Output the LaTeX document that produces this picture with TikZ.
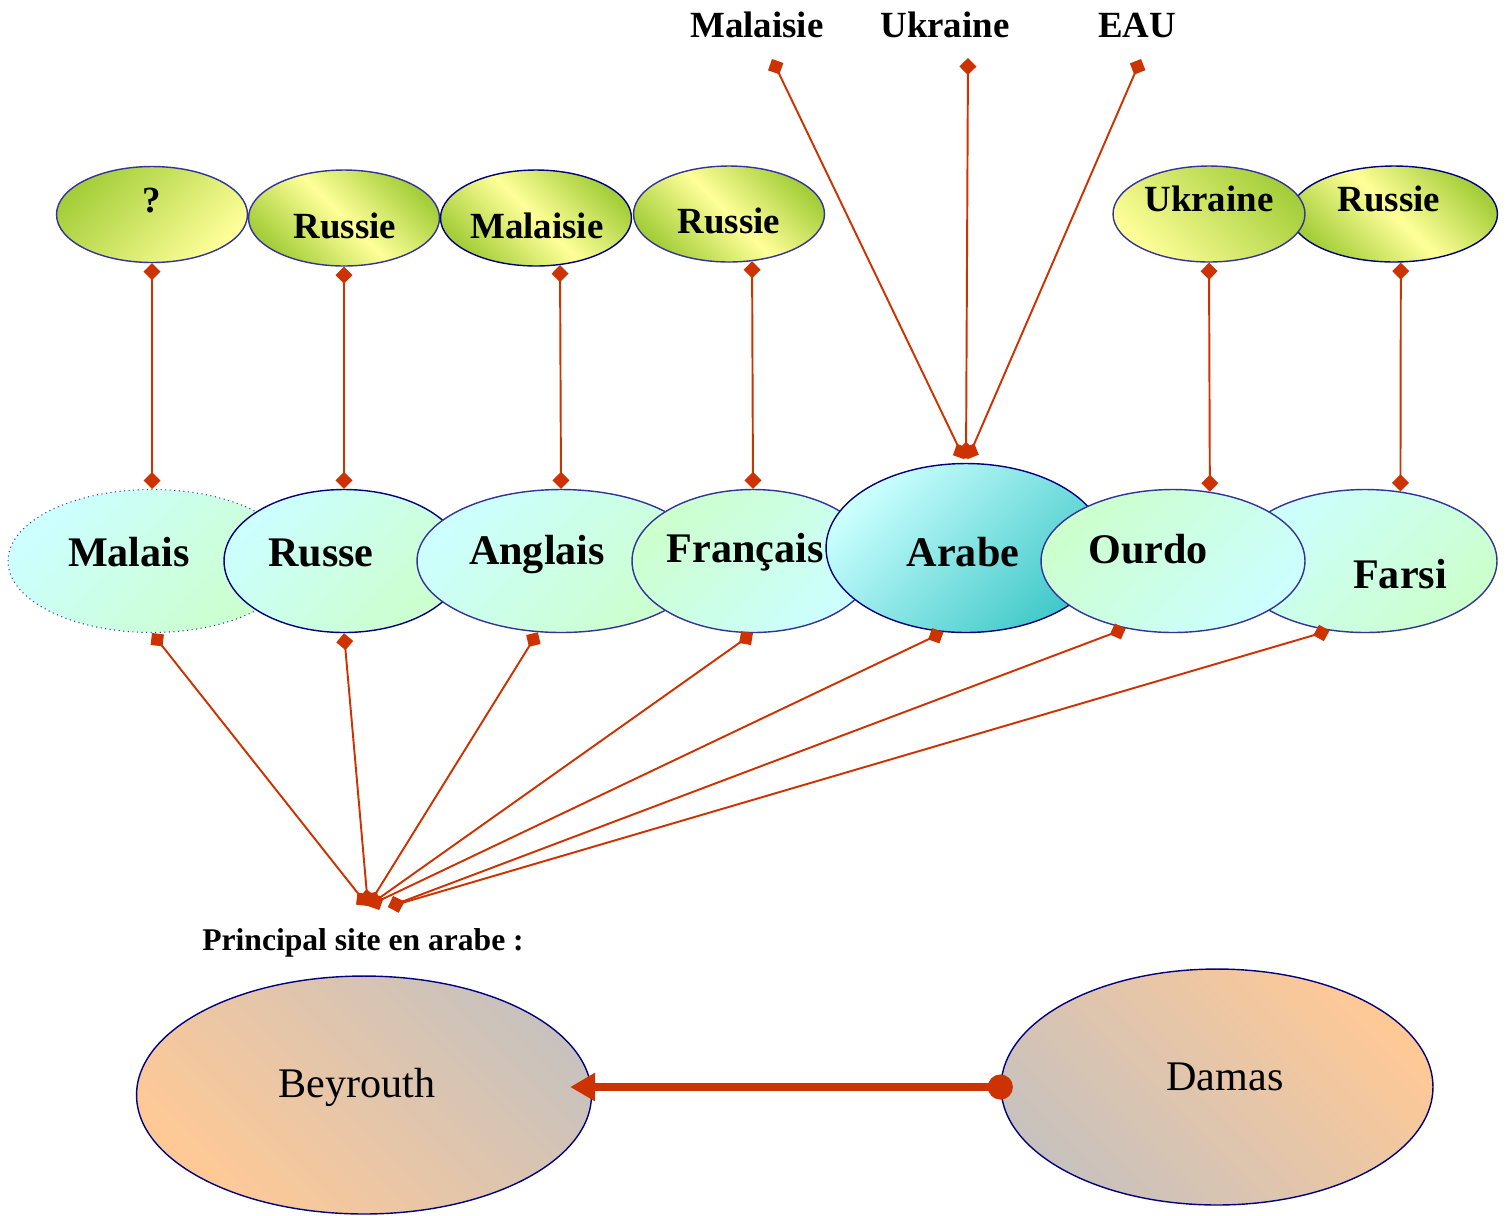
\documentclass[tikz,border=0pt]{standalone}
\usepackage{fontspec}
\setmainfont{Liberation Serif}
\usetikzlibrary{shapes.geometric,arrows.meta}
\definecolor{leafgreen}{HTML}{A4CE39}
\definecolor{paleyellow}{HTML}{FFFF99}
\definecolor{palecyan}{HTML}{CCFFFF}
\definecolor{palemint}{HTML}{CCFFCC}
\definecolor{deepcyan}{HTML}{40C8C8}
\definecolor{rimblue}{HTML}{333399}
\definecolor{rimnavy}{HTML}{000080}
\definecolor{linkred}{HTML}{CC3300}
\definecolor{peach}{HTML}{FFC996}
\definecolor{ashgray}{HTML}{C8C2BE}
\begin{document}
\begin{tikzpicture}[x=0.02cm, y=-0.02cm,
	bubble/.style={ellipse, draw=rimblue, line width=0.8pt, inner sep=0pt},
	small/.style={bubble, minimum width=3.82cm, minimum height=1.92cm},
	lang/.style={bubble, minimum width=5.28cm, minimum height=2.86cm},
	town/.style={bubble, draw=rimnavy, minimum width=9.1cm, minimum height=4.76cm},
	word/.style={anchor=base, inner sep=0pt, font=\fontsize{21}{25}\selectfont\bfseries},
	bigword/.style={word, font=\fontsize{24}{29}\selectfont\bfseries},
	cityword/.style={word, font=\fontsize{24}{29}\selectfont},
	mk/.tip={Diamond[length=0.34cm,width=0.34cm]},
	blob/.tip={Circle[length=0.5cm]},
	point/.tip={Triangle[length=0.5cm,width=0.54cm]},
	link/.style={draw=linkred, line width=1.1pt, mk-mk},
	flow/.style={draw=linkred, line width=0.17cm, blob-point, shorten <=-0.25cm, shorten >=-0.44cm}]
		\useasboundingbox (0,0) rectangle (1507,1215);
		\draw (152,214.5) node[small, top color=leafgreen, bottom color=paleyellow, shading angle=45] (q) {};
		\draw (344,218) node[small, top color=leafgreen, bottom color=leafgreen, middle color=paleyellow, shading angle=-45] (r1) {};
		\draw (536,218) node[small, draw=rimnavy, top color=leafgreen, bottom color=leafgreen, middle color=paleyellow, shading angle=-45] (m1) {};
		\draw (729,214) node[small, top color=leafgreen, bottom color=leafgreen, middle color=paleyellow, shading angle=-45] (r2) {};
		\draw (1394,214) node[small, draw=rimnavy, minimum width=4.14cm, top color=leafgreen, bottom color=leafgreen, middle color=paleyellow, shading angle=-45] (r3) {};
		\draw (1209,214) node[small, minimum width=3.84cm, top color=leafgreen, bottom color=paleyellow, shading angle=-45] (u1) {};
		\draw (152,561) node[lang, minimum width=5.76cm, line width=0.6pt, dotted, top color=palecyan, bottom color=palemint, shading angle=45] (malais) {};
		\draw (344,561) node[lang, minimum width=4.8cm, draw=rimnavy, top color=palecyan, bottom color=palemint, shading angle=45] (russe) {};
		\draw (561,561) node[lang, minimum width=5.76cm, top color=palecyan, bottom color=palemint, shading angle=45] (anglais) {};
		\draw (753,561) node[lang, minimum width=4.84cm, top color=palemint, bottom color=palecyan, shading angle=45] (francais) {};
		\draw (966,548) node[lang, minimum width=5.6cm, minimum height=3.38cm, draw=rimnavy, top color=palecyan, bottom color=deepcyan, shading angle=45] (arabe) {};
		\draw (1365,561) node[lang, top color=palecyan, bottom color=palemint, shading angle=45] (farsi) {};
		\draw (1173,561) node[lang, top color=palemint, bottom color=palecyan, shading angle=45] (ourdo) {};
		\draw (364,1095) node[town, top color=ashgray, bottom color=peach, shading angle=-45] (beyrouth) {};
		\draw (1217,1087) node[town, minimum width=8.64cm, minimum height=4.72cm, top color=peach, bottom color=ashgray, shading angle=-45] (damas) {};
		\draw (152,212) node[word] (tq) {?};
		\draw (345,238) node[word] (tr1) {Russie};
		\draw (537,238) node[word] (tm1) {Malaisie};
		\draw (729,233) node[word] (tr2) {Russie};
		\draw (1209,211) node[word] (tu1) {Ukraine};
		\draw (1389,211) node[word] (tr3) {Russie};
		\draw (757,37) node[word] (tMal) {Malaisie};
		\draw (945,37) node[word] (tUkr) {Ukraine};
		\draw (1137,37) node[word] (tEau) {EAU};
		\draw (129,566) node[bigword] (tmalais) {Malais};
		\draw (321,566) node[bigword] (trusse) {Russe};
		\draw (537,564) node[bigword] (tanglais) {Anglais};
		\draw (745,562) node[bigword] (tfrancais) {Français};
		\draw (963,566) node[bigword] (tarabe) {Arabe};
		\draw (1148,563) node[bigword] (tourdo) {Ourdo};
		\draw (1400,588) node[bigword] (tfarsi) {Farsi};
		\draw (363,950) node[word, font=\fontsize{18}{22}\selectfont\bfseries] (tsite) {Principal site en arabe :};
		\draw (357,1097) node[cityword] (tbeyrouth) {Beyrouth};
		\draw (1225,1090) node[cityword] (tdamas) {Damas};
		\coordinate (cMal) at (772,59);
		\coordinate (cUkr) at (968,58);
		\coordinate (cEau) at (1141,59);
		\coordinate (hub) at (368,906);
		\coordinate (hub2) at (388,907);
		\draw[link] (q.south) -- (malais.north);
		\draw[link] (r1.south) -- (russe.north);
		\draw[link] (m1.-63) -- (anglais.north);
		\draw[link] (r2.-64) -- (francais.north);
		\draw[link] (u1.south) -- (ourdo.62);
		\draw[link] (r3.-82) -- (farsi.63);
		\draw[link, shorten >=0.08cm] (cMal) -- (arabe.north);
		\draw[link, shorten >=0.08cm] (cUkr) -- (arabe.north);
		\draw[link, shorten >=0.08cm] (cEau) -- (arabe.north);
		\draw[link] (malais.south) -- (hub);
		\draw[link] (russe.south) -- (hub);
		\draw[link] (anglais.252) -- (hub);
		\draw[link] (francais.south) -- (hub);
		\draw[link] (arabe.255) -- (hub);
		\draw[link] (ourdo.235) -- (hub2);
		\draw[link] (farsi.243) -- (hub2);
		\draw[flow] (damas.west) -- (damas.west -| beyrouth.east);
	\end{tikzpicture}
\end{document}
